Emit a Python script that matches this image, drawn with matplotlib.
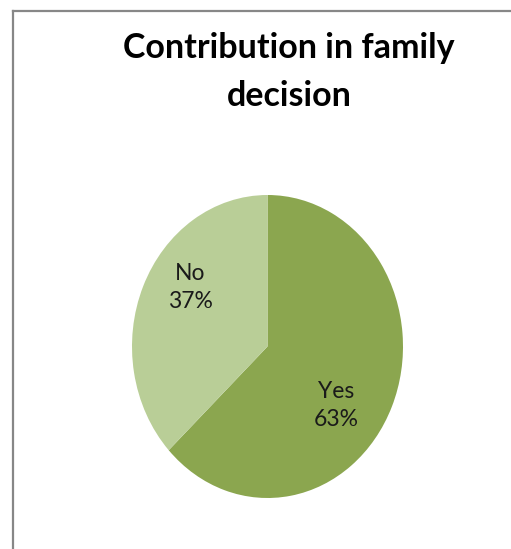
import matplotlib.pyplot as plt
from matplotlib.lines import Line2D

labels = ["Yes", "No"]
shares = [63, 37]
colors = ["#8ba64f", "#b9ce97"]
# label anchor points inside each wedge (axes data units)
label_xy = [(0.51, -0.39), (-0.57, 0.39)]

W, H = 511, 549
fig = plt.figure(figsize=(W / 100, H / 100), dpi=100)

# chart frame (left and top edges)
fig.add_artist(Line2D([13 / W, 13 / W], [0, 1 - 11 / H], color="#878787", lw=1.6))
fig.add_artist(Line2D([13 / W, 1], [1 - 11 / H, 1 - 11 / H], color="#878787", lw=1.6))

fig.text(289 / W, 1 - 48 / H, "Contribution in family", ha="center", va="center",
         fontsize=24.5, fontweight="bold", family="Lato")
fig.text(289 / W, 1 - 96 / H, "decision", ha="center", va="center",
         fontsize=24.5, fontweight="bold", family="Lato")

ax = fig.add_axes([132 / W, 51 / H, 271 / W, 303 / H])
ax.pie(shares, colors=colors, startangle=90, counterclock=False,
       wedgeprops=dict(linewidth=0))
ax.set_aspect("auto")
ax.set_xlim(-1, 1)
ax.set_ylim(-1, 1)

for lab, v, (x, y) in zip(labels, shares, label_xy):
    ax.text(x, y, f"{lab}\n{v}%", ha="center", va="center", fontsize=16.5,
            family="Lato", color="#1a1a1a", linespacing=1.4)

fig.savefig("out.png", dpi=100)
